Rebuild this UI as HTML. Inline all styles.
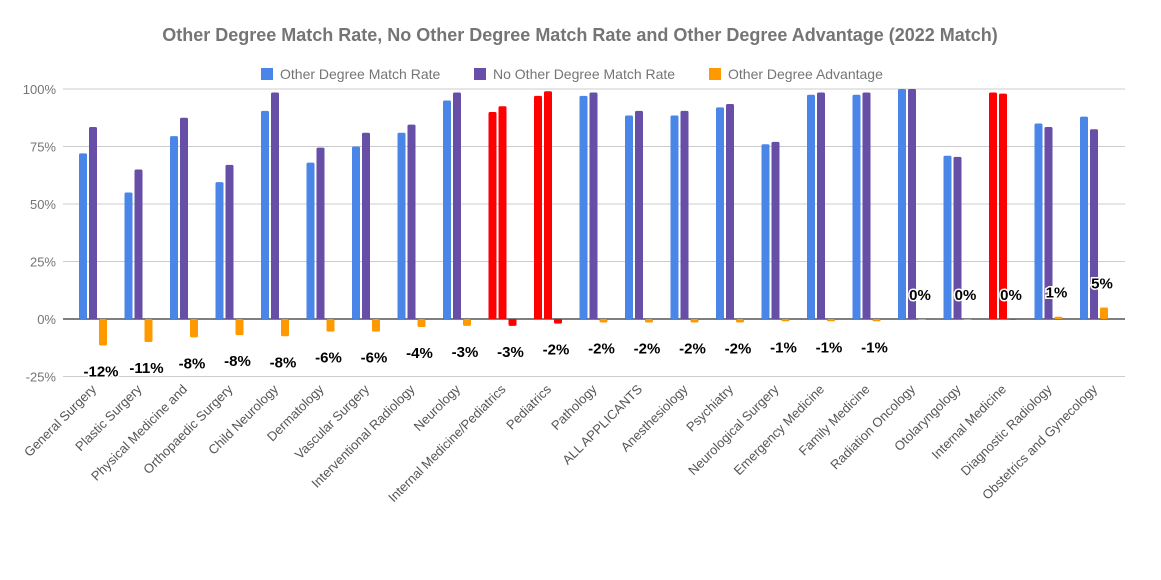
<!DOCTYPE html>
<html><head><meta charset="utf-8"><style>
body{margin:0;background:#fff;font-family:"Liberation Sans",Arial,sans-serif}
svg text{font-family:"Liberation Sans",Arial,sans-serif}
</style></head><body>
<svg id="chart" width="1161" height="575" xmlns="http://www.w3.org/2000/svg">
<text x="580" y="41" text-anchor="middle" font-size="18" font-weight="bold" fill="#757575">Other Degree Match Rate, No Other Degree Match Rate and Other Degree Advantage (2022 Match)</text>
<g font-size="14" fill="#757575">
<rect x="261" y="68" width="12" height="12" fill="#4a86e8"/>
<text x="280" y="79">Other Degree Match Rate</text>
<rect x="474" y="68" width="12" height="12" fill="#674ea7"/>
<text x="493" y="79">No Other Degree Match Rate</text>
<rect x="709" y="68" width="12" height="12" fill="#ff9900"/>
<text x="728" y="79">Other Degree Advantage</text>
</g>
<g id="grid"></g>
<g id="bars"></g>
<g id="labels"></g>
</svg>
<script>
const categories=["General Surgery","Plastic Surgery","Physical Medicine and","Orthopaedic Surgery","Child Neurology","Dermatology","Vascular Surgery","Interventional Radiology","Neurology","Internal Medicine/Pediatrics","Pediatrics","Pathology","ALL APPLICANTS","Anesthesiology","Psychiatry","Neurological Surgery","Emergency Medicine","Family Medicine","Radiation Oncology","Otolaryngology","Internal Medicine","Diagnostic Radiology","Obstetrics and Gynecology"];
const otherRate=[72,55,79.5,59.5,90.5,68,75,81,95,90,97,97,88.5,88.5,92,76,97.5,97.5,100,71,98.5,85,88];
const noOtherRate=[83.5,65,87.5,67,98.5,74.5,81,84.5,98.5,92.5,99,98.5,90.5,90.5,93.5,77,98.5,98.5,100,70.5,98,83.5,82.5];
const advantage=[-11.5,-10,-8,-7,-7.5,-5.5,-5.5,-3.5,-3,-3,-2,-1.5,-1.5,-1.5,-1.5,-1,-1,-1,0,0,0,1,5];
const advLabels=["-12%","-11%","-8%","-8%","-8%","-6%","-6%","-4%","-3%","-3%","-2%","-2%","-2%","-2%","-2%","-1%","-1%","-1%","0%","0%","0%","1%","5%"];
const highlighted=[9,10,20];
const yTicks=[100,75,50,25,0,-25];
const yTickLabels=["100%","75%","50%","25%","0%","-25%"];
const NS="http://www.w3.org/2000/svg";
const y=v=>319-v*2.3;
const cx=i=>93+i*45.5;
function mk(tag,attrs,parent){const e=document.createElementNS(NS,tag);for(const k in attrs)e.setAttribute(k,attrs[k]);parent.appendChild(e);return e;}
const grid=document.getElementById('grid'),bars=document.getElementById('bars'),labels=document.getElementById('labels');
yTicks.forEach((t,i)=>{
 const l=mk('line',{x1:63,x2:1125,y1:y(t),y2:y(t),stroke:t===0?'#333':'#ccc','stroke-width':t===0?1.3:1},grid);
 
 
 const tx=mk('text',{x:56,y:y(t)+5,'text-anchor':'end','font-size':13,fill:'#757575'},grid);
 tx.textContent=yTickLabels[i];
 
 
});
function bar(x,v,color){
 const top=Math.min(y(v),y(0)),h=Math.max(Math.abs(y(v)-y(0)),0.8);
 const r=mk('rect',{x:x,y:top,width:8,height:h,rx:1.5,fill:color},bars);
 return r;
}
categories.forEach((c,i)=>{
 const hl=highlighted.includes(i);
 const b1=bar(cx(i)-14,otherRate[i],hl?'#ff0000':'#4a86e8');
 
 
 const b2=bar(cx(i)-4,noOtherRate[i],hl?'#ff0000':'#674ea7');
 
 
 const b3=bar(cx(i)+6,advantage[i],hl?'#ff0000':'#ff9900');
 
 
 const v=advantage[i];
 const ly=v<0?y(v)+31:y(0)-19-(y(0)-y(v));
 const t=mk('text',{x:cx(i)+8,y:ly,'text-anchor':'middle','font-size':15,'font-weight':'bold',fill:'#000',stroke:'#fff','stroke-width':3,'paint-order':'stroke'},labels);
 t.textContent=advLabels[i];
 
 
 const xl=mk('text',{transform:`translate(${cx(i)+4},390) rotate(-45)`,'text-anchor':'end','font-size':13,fill:'#555'},labels);
 xl.textContent=c;
 
 
});
</script>
</body></html>
